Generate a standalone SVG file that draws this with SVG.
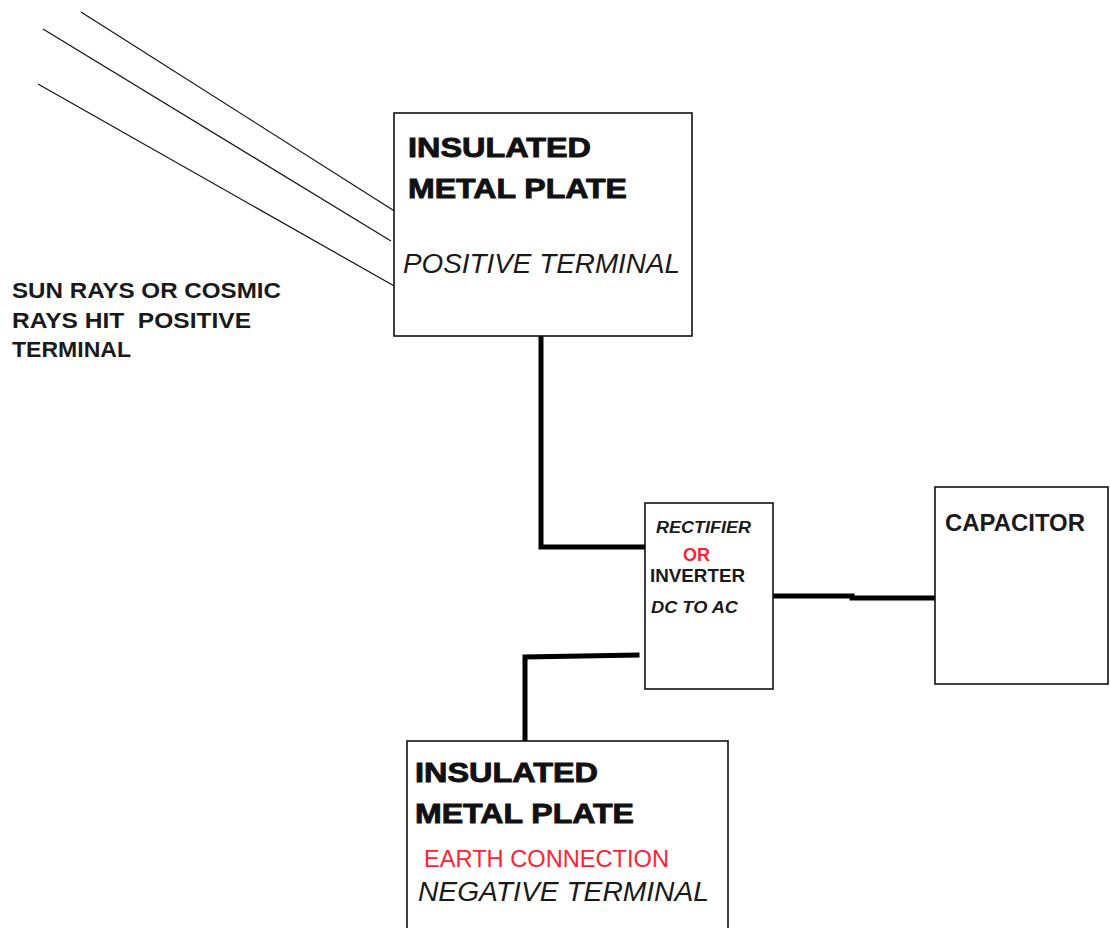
<svg xmlns="http://www.w3.org/2000/svg" width="1110" height="928" viewBox="0 0 1110 928">
<style>
.box{fill:#fff;stroke:#111;stroke-width:1.6}
.ray{stroke:#111;stroke-width:1.2;fill:none}
.wire{stroke:#000;stroke-width:5;fill:none;stroke-linecap:square}
.t{font-family:"Liberation Sans",Arial,sans-serif;fill:#1a1a1a}
.heavy{font-weight:bold;stroke:#111;stroke-width:0.9;fill:#111}
.b{font-weight:bold}
.i{font-style:italic}
.red{fill:#ff2233}
</style>
<rect width="1110" height="928" fill="#fff"/>
<g id="rays">
<line class="ray" x1="81" y1="12" x2="396" y2="212"/>
<line class="ray" x1="43" y1="29" x2="391" y2="241"/>
<line class="ray" x1="38" y1="84" x2="396" y2="287"/>
</g>
<g id="rays-label">
<text class="t b" x="12" y="298" font-size="22.5" textLength="269" lengthAdjust="spacingAndGlyphs">SUN RAYS OR COSMIC</text>
<text class="t b" x="12" y="328" font-size="22.5" textLength="239" lengthAdjust="spacingAndGlyphs" xml:space="preserve">RAYS HIT  POSITIVE</text>
<text class="t b" x="12" y="357" font-size="22.5" textLength="119" lengthAdjust="spacingAndGlyphs">TERMINAL</text>
</g>
<g id="connectors">
<polyline class="wire" points="541,337 541,547 645,547"/>
<polyline class="wire" points="525,740 525,657 637,655"/>
<polyline class="wire" points="769,596 852,596 852,598 935,598"/>
</g>
<g id="positive-plate">
<rect class="box" x="394" y="113" width="298" height="223"/>
<text class="t heavy" x="408" y="157" font-size="28" textLength="183" lengthAdjust="spacingAndGlyphs">INSULATED</text>
<text class="t heavy" x="408" y="198" font-size="28" textLength="219" lengthAdjust="spacingAndGlyphs">METAL PLATE</text>
<text class="t i" x="403" y="273" font-size="27" textLength="277" lengthAdjust="spacingAndGlyphs">POSITIVE TERMINAL</text>
</g>
<g id="rectifier">
<rect class="box" x="645" y="503" width="128" height="186"/>
<text class="t b i" x="656" y="533" font-size="16" textLength="95" lengthAdjust="spacingAndGlyphs">RECTIFIER</text>
<text class="t b red" x="683" y="561" font-size="19" textLength="27" lengthAdjust="spacingAndGlyphs">OR</text>
<text class="t b" x="650" y="582" font-size="19" textLength="95" lengthAdjust="spacingAndGlyphs">INVERTER</text>
<text class="t b i" x="651" y="613" font-size="16" textLength="87" lengthAdjust="spacingAndGlyphs">DC TO AC</text>
</g>
<g id="capacitor">
<rect class="box" x="935" y="487" width="173" height="197"/>
<text class="t b" x="945" y="531" font-size="24" textLength="140" lengthAdjust="spacingAndGlyphs">CAPACITOR</text>
</g>
<g id="negative-plate">
<rect class="box" x="407" y="741" width="321" height="200"/>
<text class="t heavy" x="415" y="782" font-size="28" textLength="183" lengthAdjust="spacingAndGlyphs">INSULATED</text>
<text class="t heavy" x="415" y="823" font-size="28" textLength="219" lengthAdjust="spacingAndGlyphs">METAL PLATE</text>
<text class="t red" x="424" y="867" font-size="24" textLength="245" lengthAdjust="spacingAndGlyphs">EARTH CONNECTION</text>
<text class="t i" x="418" y="901" font-size="27" textLength="291" lengthAdjust="spacingAndGlyphs">NEGATIVE TERMINAL</text>
</g>
</svg>
